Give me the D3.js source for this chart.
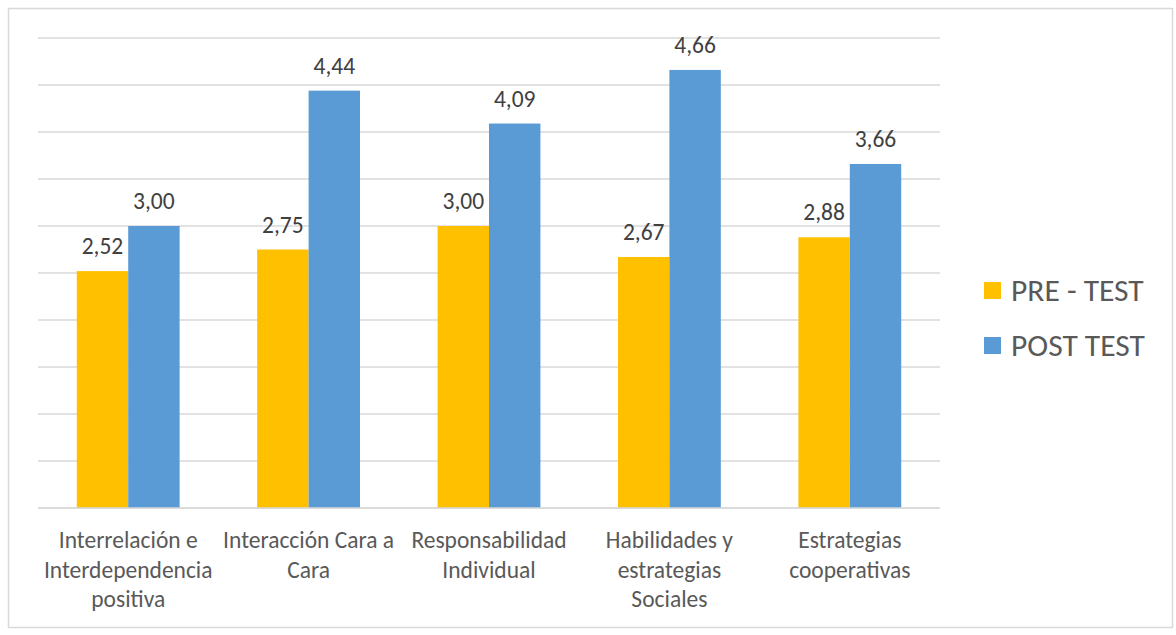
<!DOCTYPE html>
<html><head><meta charset="utf-8">
<script src="https://cdn.jsdelivr.net/npm/d3@7"></script>
<style>body{margin:0;background:#fff;}svg{display:block;font-family:Carlito,"Open Sans","Liberation Sans",sans-serif;}</style>
</head><body>
<script>
const categories = [
  ["Interrelación e","Interdependencia","positiva"],
  ["Interacción Cara a","Cara"],
  ["Responsabilidad","Individual"],
  ["Habilidades y","estrategias","Sociales"],
  ["Estrategias","cooperativas"]
];
const seriesNames = ["PRE - TEST","POST TEST"];
const preTest = [2.52, 2.75, 3.00, 2.67, 2.88];
const postTest = [3.00, 4.44, 4.09, 4.66, 3.66];
const colors = ["#FFC000","#5B9BD5"];
const yTicks = [0,0.5,1,1.5,2,2.5,3,3.5,4,4.5,5];

const W=1176,H=635;
const svg=d3.select("body").append("svg").attr("width",W).attr("height",H);
svg.append("rect").attr("x",8.5).attr("y",8.5).attr("width",1164).attr("height",619).attr("fill","#fff").attr("stroke","#d9d9d9").attr("stroke-width",1.5);

const x0=d3.scaleBand().domain(d3.range(categories.length)).range([38,940]).paddingInner(0.43).paddingOuter(0.215);
const x1=d3.scaleBand().domain([0,1]).range([0,x0.bandwidth()]);
const y=d3.scaleLinear().domain([0,5]).range([508,38]);

svg.append("g").selectAll("line").data(yTicks).join("line")
  .attr("x1",38).attr("x2",940).attr("y1",d=>y(d)).attr("y2",d=>y(d))
  .attr("stroke","#d9d9d9").attr("stroke-width",1.5);

const data=categories.map((c,i)=>[preTest[i],postTest[i]]);
const g=svg.append("g");
data.forEach((vals,i)=>{
  vals.forEach((v,s)=>{
    g.append("rect").attr("x",x0(i)+x1(s)).attr("y",y(v)).attr("width",x1.bandwidth()).attr("height",y(0)-y(v)).attr("fill",colors[s]);
    g.append("text").attr("x",x0(i)+x1(s)+x1.bandwidth()/2).attr("y",y(v)-17)
      .attr("text-anchor","middle").attr("font-size",23.5).attr("fill","#404040")
      .text(v.toFixed(2).replace(".",","));
  });
});
svg.append("line").attr("x1",38).attr("x2",940).attr("y1",y(0)).attr("y2",y(0)).attr("stroke","#d9d9d9").attr("stroke-width",1.5);

categories.forEach((lines,i)=>{
  const cx=x0(i)+x0.bandwidth()/2;
  lines.forEach((t,j)=>{
    svg.append("text").attr("x",cx).attr("y",548+j*29.5).attr("text-anchor","middle")
      .attr("font-size",23.5).attr("fill","#595959").text(t);
  });
});

const leg=svg.append("g");
seriesNames.forEach((n,i)=>{
  leg.append("rect").attr("x",984).attr("y",282+i*55).attr("width",17).attr("height",17).attr("fill",colors[i]);
  leg.append("text").attr("x",1011).attr("y",301+i*55).attr("font-size",31.5).attr("fill","#595959").text(n);
});
</script>
</body></html>
